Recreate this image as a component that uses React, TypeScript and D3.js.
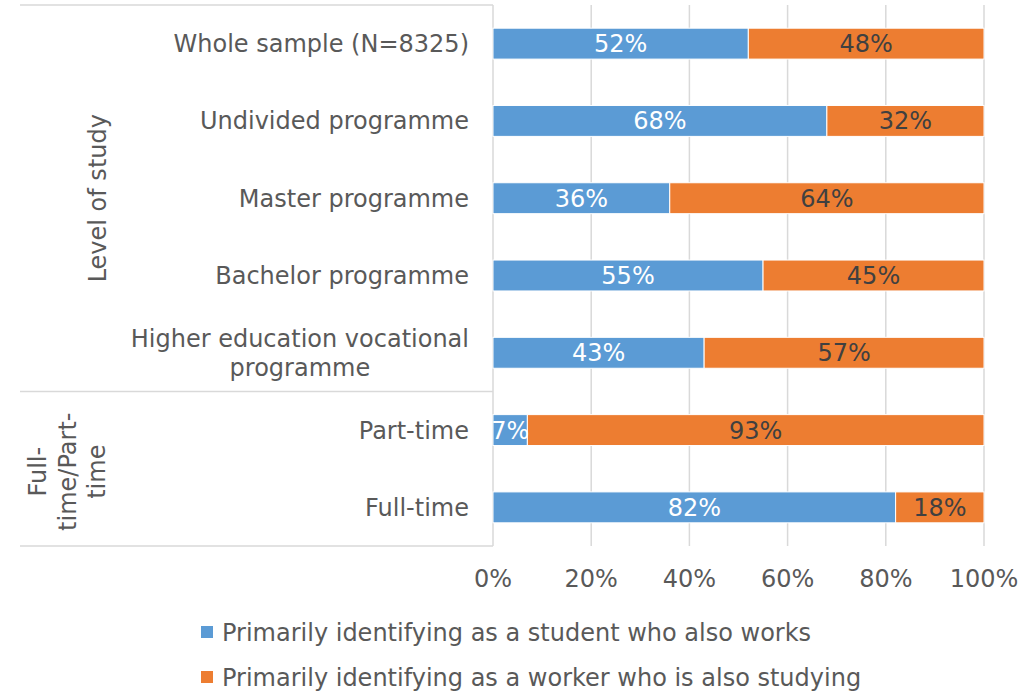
import React from "react";
import * as d3 from "d3";

const categories: string[][] = [
  ["Whole sample (N=8325)"],
  ["Undivided programme"],
  ["Master programme"],
  ["Bachelor programme"],
  ["Higher education vocational", "programme"],
  ["Part-time"],
  ["Full-time"],
];
const studentWorks = [52, 68, 36, 55, 43, 7, 82];
const workerStudies = [48, 32, 64, 45, 57, 93, 18];
const seriesNames = [
  "Primarily identifying as a student who also works",
  "Primarily identifying as a worker who is also studying",
];
const xTicks = [0, 20, 40, 60, 80, 100];
const groups = [
  { lines: ["Level of study"], from: 0, to: 5 },
  { lines: ["Full-", "time/Part-", "time"], from: 5, to: 7 },
];

const W = 1032;
const H = 694;
const FONT = "'DejaVu Sans', Verdana, sans-serif";
const FS = 24;
const TEXT = "#595959";
const GRID = "#d9d9d9";
const BLUE = "#5B9BD5";
const ORANGE = "#ED7D31";

let ctx: CanvasRenderingContext2D | null = null;
function measure(s: string): number {
  if (!ctx) ctx = document.createElement("canvas").getContext("2d");
  if (!ctx) return s.length * FS * 0.6;
  ctx.font = `${FS}px ${FONT}`;
  return ctx.measureText(s).width;
}

export default function App() {
  const plotLeft = 493;
  const plotRight = 984;
  const plotTop = 5;
  const plotBottom = 546;
  const x = d3.scaleLinear().domain([0, 100]).range([plotLeft, plotRight]);
  const y = d3
    .scaleBand<number>()
    .domain(d3.range(categories.length))
    .range([plotTop, plotBottom])
    .paddingInner(0.6)
    .paddingOuter(0.3);
  const band = (plotBottom - plotTop) / categories.length;
  const rowCenter = (i: number) => (y(i) as number) + y.bandwidth() / 2;

  const stack = d3.stack<number>().keys(["a", "b"]).value((i, k) =>
    k === "a" ? studentWorks[i] : workerStudies[i]
  )(d3.range(categories.length));
  const colors = [BLUE, ORANGE];
  const labelColors = ["#ffffff", "#404040"];

  const labelRight = 469;
  const lineH = 29;

  return (
    <svg width={W} height={H} style={{ display: "block", position: "absolute", left: 0, top: 0 }} fontFamily={FONT}>
      <rect width={W} height={H} fill="#fff" />
      {/* gridlines */}
      {xTicks.slice(1).map((t) => (
        <line key={t} x1={x(t)} x2={x(t)} y1={plotTop} y2={plotBottom} stroke={GRID} strokeWidth={1.5} />
      ))}
      {/* category axis lines */}
      <line x1={plotLeft} x2={plotLeft} y1={plotTop} y2={plotBottom} stroke={GRID} strokeWidth={1.5} />
      <line x1={20} x2={plotLeft} y1={plotTop} y2={plotTop} stroke={GRID} strokeWidth={1.5} />
      {groups.map((g, gi) => (
        <line key={gi} x1={20} x2={plotLeft} y1={plotTop + band * g.to} y2={plotTop + band * g.to} stroke={GRID} strokeWidth={1.5} />
      ))}
      {/* bars */}
      {stack.map((s, si) =>
        s.map((d, i) => (
          <rect
            key={`${si}-${i}`}
            x={x(d[0])}
            width={x(d[1]) - x(d[0])}
            y={y(i)}
            height={y.bandwidth()}
            fill={colors[si]}
            stroke="#fff"
            strokeWidth={1}
          />
        ))
      )}
      {/* data labels */}
      {stack.map((s, si) =>
        s.map((d, i) => (
          <text
            key={`l${si}-${i}`}
            x={(x(d[0]) + x(d[1])) / 2}
            y={rowCenter(i) + 8.5}
            textAnchor="middle"
            fontSize={FS}
            fill={labelColors[si]}
          >
            {`${d[1] - d[0]}%`}
          </text>
        ))
      )}
      {/* category labels */}
      {categories.map((lines, i) => {
        const maxW = Math.max(...lines.map(measure));
        const cx = labelRight - maxW / 2;
        const c = rowCenter(i);
        const start = c - ((lines.length - 1) * lineH) / 2;
        return lines.map((ln, li) => (
          <text key={`c${i}-${li}`} x={cx} y={start + li * lineH + 8.5} textAnchor="middle" fontSize={FS} fill={TEXT}>
            {ln}
          </text>
        ));
      })}
      {/* group labels */}
      {groups.map((g, gi) => {
        const cy = plotTop + (band * (g.from + g.to)) / 2 + (gi === 1 ? 3 : 0);
        const baseX = gi === 0 ? 106 : 46;
        return g.lines.map((ln, li) => (
          <text
            key={`g${gi}-${li}`}
            transform={`translate(${baseX + li * 29.5},${cy}) rotate(-90)`}
            textAnchor="middle"
            fontSize={FS}
            fill={TEXT}
          >
            {ln}
          </text>
        ));
      })}
      {/* x axis labels */}
      {xTicks.map((t) => (
        <text key={`t${t}`} x={x(t)} y={587} textAnchor="middle" fontSize={FS} fill={TEXT}>
          {`${t}%`}
        </text>
      ))}
      {/* legend */}
      {seriesNames.map((n, i) => (
        <g key={`lg${i}`}>
          <rect x={201} y={626 + i * 45} width={12} height={12} fill={colors[i]} />
          <text x={222} y={641 + i * 45} fontSize={FS} fill={TEXT}>
            {n}
          </text>
        </g>
      ))}
    </svg>
  );
}
